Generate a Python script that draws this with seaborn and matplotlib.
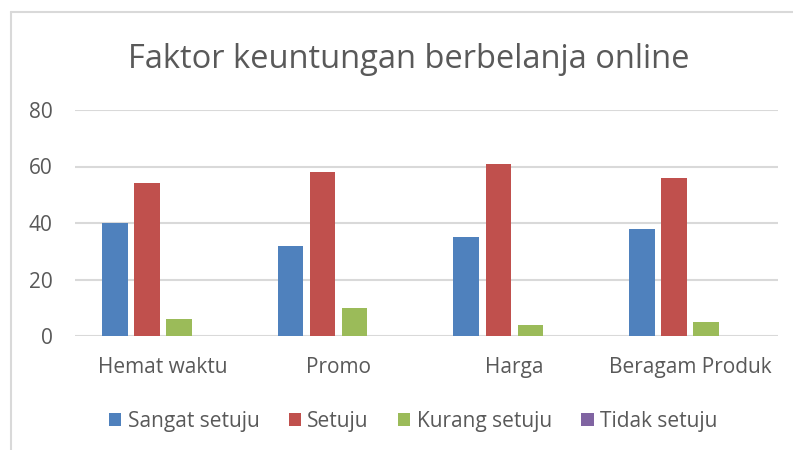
import matplotlib
matplotlib.use("Agg")
import matplotlib.pyplot as plt
from matplotlib.lines import Line2D
import seaborn as sns
import pandas as pd

# data
categories = ['Hemat waktu', 'Promo', 'Harga', 'Beragam Produk']
series = ['Sangat setuju', 'Setuju', 'Kurang setuju', 'Tidak setuju']
sangat_setuju = [40, 32, 35, 38]
setuju = [54, 58, 61, 56]
kurang_setuju = [6, 10, 4, 5]
tidak_setuju = [0, 0, 0, 0]
colors = ['#4F81BD', '#C0504D', '#9BBB59', '#8064A2']

rows = []
for name, vals in zip(series, [sangat_setuju, setuju, kurang_setuju, tidak_setuju]):
    for cat, v in zip(categories, vals):
        rows.append({'kategori': cat, 'jawaban': name, 'nilai': v})
df = pd.DataFrame(rows)

sns.set_style('white')
plt.rcParams['font.family'] = ['Open Sans', 'DejaVu Sans']
txt = '#595959'

fig = plt.figure(figsize=(7.93, 4.5), dpi=100)
ax = fig.add_axes([75/793, 1-336/450, (778-75)/793, (336-110)/450])

sns.barplot(data=df, x='kategori', y='nilai', hue='jawaban', hue_order=series,
            palette=colors, width=0.73, gap=0.2, saturation=1, ax=ax,
            linewidth=0, errorbar=None)

ax.set_ylim(0, 80)
ax.set_yticks(range(0, 81, 20))
ax.yaxis.grid(True, color='#D9D9D9', linewidth=1.5)
ax.set_axisbelow(True)
for s in ax.spines.values():
    s.set_visible(False)
ax.set_xlabel('')
ax.set_ylabel('')
ax.tick_params(axis='both', length=0, labelsize=15, labelcolor=txt)
ax.tick_params(axis='x', pad=15)
ax.tick_params(axis='y', pad=16)
for lbl in ax.get_yticklabels():
    lbl.set_horizontalalignment('right')

handles, labels = ax.get_legend_handles_labels()
ax.get_legend().remove()
fig.legend(handles, labels, loc='center', bbox_to_anchor=(413/793, 1-421/450),
           ncol=4, frameon=False, fontsize=15, labelcolor=txt,
           handlelength=0.6, handleheight=0.6, handletextpad=0.3, columnspacing=1.4)

fig.text(409/793, 1-60/450, 'Faktor keuntungan berbelanja online',
         ha='center', va='center', fontsize=23.5, color=txt)

# chart border (top and left visible)
fig.add_artist(Line2D([11/793, 1], [1-12/450, 1-12/450], color='#D9D9D9', lw=1.5))
fig.add_artist(Line2D([11/793, 11/793], [0, 1-12/450], color='#D9D9D9', lw=1.5))

fig.savefig('out.png', dpi=100)
